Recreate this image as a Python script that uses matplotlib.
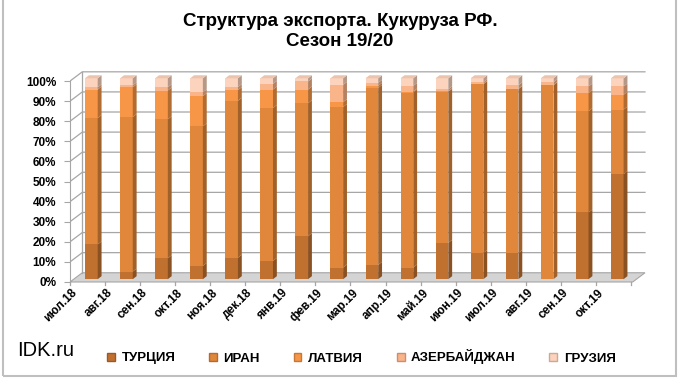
import matplotlib
matplotlib.use("Agg")
import matplotlib.pyplot as plt
from matplotlib.patches import Patch, Rectangle
import numpy as np

plt.rcParams['font.family'] = ['Liberation Sans', 'DejaVu Sans']

months = ['июл.18', 'авг.18', 'сен.18', 'окт.18', 'ноя.18', 'дек.18', 'янв.19', 'фев.19',
          'мар.19', 'апр.19', 'май.19', 'июн.19', 'июл.19', 'авг.19', 'сен.19', 'окт.19']
series_names = ['ТУРЦИЯ', 'ИРАН', 'ЛАТВИЯ', 'АЗЕРБАЙДЖАН', 'ГРУЗИЯ']
turkey = [17.3, 3.8, 10.4, 6.6, 10.7, 9.1, 21.4, 5.8, 7.1, 5.8, 18.1, 13.0, 13.0, 0.0, 33.2, 52.3]
iran = [62.9, 76.9, 69.2, 69.5, 78.1, 76.1, 66.2, 79.9, 88.1, 87.1, 75.2, 84.0, 81.6, 96.5, 50.4, 32.1]
latvia = [14.2, 14.8, 14.3, 15.0, 5.3, 9.2, 6.8, 2.4, 1.0, 0.5, 0.2, 0.2, 0.2, 0.2, 9.0, 7.4]
azerbaijan = [1.1, 1.0, 1.6, 1.9, 1.5, 2.8, 4.0, 8.6, 1.5, 2.8, 1.0, 0.8, 1.7, 1.3, 3.3, 4.1]
georgia = [4.5, 3.5, 4.5, 7.0, 4.4, 2.8, 1.6, 3.3, 2.3, 3.8, 5.5, 2.0, 3.5, 2.0, 4.1, 4.1]
yticks = [0, 10, 20, 30, 40, 50, 60, 70, 80, 90, 100]
ytick_labels = ['0%', '10%', '20%', '30%', '40%', '50%', '60%', '70%', '80%', '90%', '100%']

colors = ['#C0712F', '#E0873B', '#F79646', '#FAB48A', '#FCD3BC']
series = [turkey, iran, latvia, azerbaijan, georgia]


def shade(c, f):
    r, g, b = matplotlib.colors.to_rgb(c)
    if f < 1:
        return (r * f, g * f, b * f)
    return (r + (1 - r) * (f - 1), g + (1 - g) * (f - 1), b + (1 - b) * (f - 1))


fig = plt.figure(figsize=(6.8, 3.84), dpi=100)
ax = fig.add_axes([70 / 680, (384 - 284) / 384, 589 / 680, 217 / 384])
ax.set_xlim(-0.5, 16.3)
ax.set_ylim(-1, 107)

n = len(months)
xs = np.arange(n)
ddx, ddy = 0.35, 4.6      # wall depth
bx, by = 0.11, 1.4        # bar placement inside depth
w = 0.36                  # bar front width
sdx, sdy = 0.11, 1.5      # bar side depth
xr = n - 0.45
grid_c = '#A6A6A6'

# floor
ax.fill([-0.5, xr, xr + ddx, -0.5 + ddx], [0, 0, ddy, ddy], color='#D4D4D4', ec='#A6A6A6', lw=0.8, zorder=1)
# gridlines on left and back walls
for v in yticks[1:]:
    ax.plot([-0.5, -0.5 + ddx, xr + ddx], [v, v + ddy, v + ddy], color=grid_c, lw=0.9, zorder=1)
ax.plot([-0.5 + ddx, -0.5 + ddx], [ddy, 100 + ddy], color=grid_c, lw=0.9, zorder=1)
# x tick marks
for t in np.arange(-0.5, n, 1.0):
    ax.plot([t, t], [0, -1.6], color=grid_c, lw=0.9, zorder=1, clip_on=False)

# bars
bottom = np.zeros(n)
for vals, c, name in zip(series, colors, series_names):
    vals = np.array(vals)
    ax.bar(xs + bx, vals, width=w, bottom=bottom + by, color=c, lw=0, zorder=3)
    for i in range(n):
        if vals[i] <= 0:
            continue
        x1 = xs[i] + bx + w / 2
        b0 = bottom[i] + by
        t0 = b0 + vals[i]
        ax.fill([x1, x1 + sdx, x1 + sdx, x1], [b0, b0 + sdy, t0 + sdy, t0],
                color=shade(c, 0.72), lw=0, zorder=3)
    bottom = bottom + vals

# top faces
for i in range(n):
    x0 = xs[i] + bx - w / 2
    x1 = xs[i] + bx + w / 2
    t0 = bottom[i] + by
    ax.fill([x0, x1, x1 + sdx, x0 + sdx], [t0, t0, t0 + sdy, t0 + sdy],
            color=shade(colors[-1], 0.93), lw=0, zorder=3)

for s in ['top', 'right', 'bottom']:
    ax.spines[s].set_visible(False)
ax.spines['left'].set_bounds(0, 100)
ax.spines['left'].set_color(grid_c)
ax.set_yticks(yticks)
ax.set_yticklabels(ytick_labels, fontsize=8.5, fontweight='bold')
ax.tick_params(axis='y', colors=grid_c, labelcolor='black', length=4, pad=6)
ax.set_xticks([])
for i, m in enumerate(months):
    ax.text(xs[i] - 0.22, -2.4, m, rotation=45, ha='right', va='top',
            fontsize=8.5, fontweight='bold')

fig.text(0.5, 1 - 22 / 384, 'Структура экспорта. Кукуруза РФ.', ha='center', va='center',
         fontsize=13.5, fontweight='bold')
fig.text(0.5, 1 - 41 / 384, 'Сезон 19/20', ha='center', va='center',
         fontsize=13.5, fontweight='bold')
fig.text(17 / 680, 1 - 350 / 384, 'IDK.ru', ha='left', va='center', fontsize=14.5)

handles = [Patch(facecolor=c, edgecolor=shade(c, 0.8)) for c in colors]
fig.legend(handles, series_names, loc='center left', bbox_to_anchor=(107 / 680, 1 - 357 / 384),
           ncol=5, frameon=False, prop={'size': 9.5, 'weight': 'bold'},
           handlelength=0.6, handleheight=0.6, handletextpad=0.5, columnspacing=2.55,
           borderaxespad=0, borderpad=0)

fig.patches.append(Rectangle((3 / 680, 8 / 384), 673 / 680, 380 / 384, transform=fig.transFigure,
                             fill=False, ec='#BFBFBF', lw=1.5))

fig.savefig('out.png', dpi=100)
